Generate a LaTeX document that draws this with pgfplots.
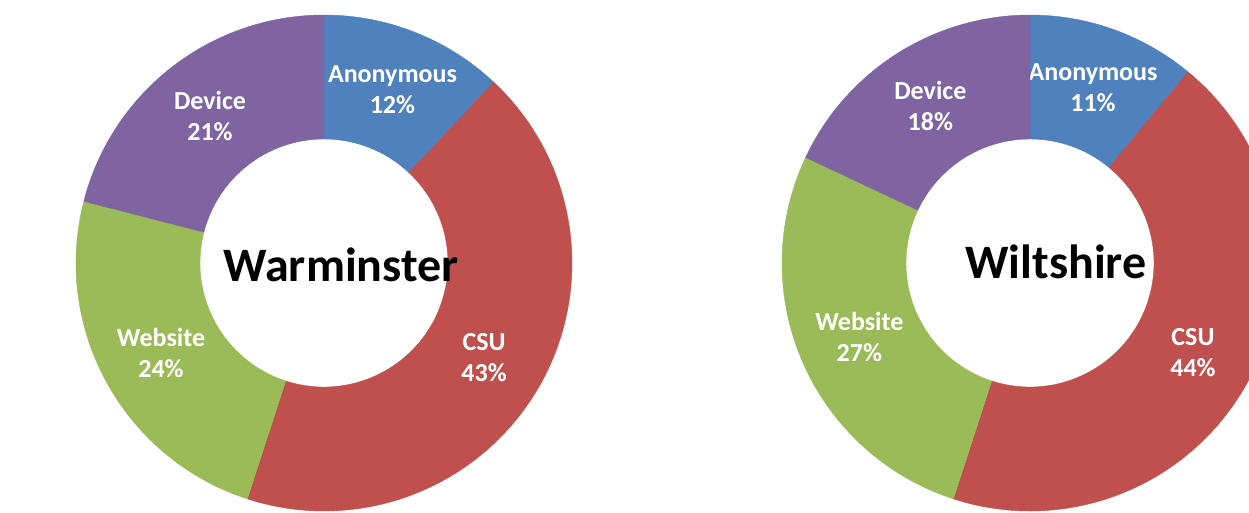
\documentclass[border=0pt]{standalone}
\usepackage{fontspec}
\setmainfont{Carlito}
\usepackage{pgfplots}
\usepackage{pgfplotstable}
\pgfplotsset{compat=1.18}
\definecolor{c0}{HTML}{4F81BD}
\definecolor{c1}{HTML}{C0504D}
\definecolor{c2}{HTML}{9BBB59}
\definecolor{c3}{HTML}{8064A2}
\tikzset{lbl/.style={text=white, align=center, font=\fontsize{26}{31}\selectfont\bfseries}}

\pgfplotstableread{
label pct
Anonymous 12
CSU 43
Website 24
Device 21
}\warm
\pgfplotstableread{
label pct
Anonymous 11
CSU 44
Website 27
Device 18
}\wilt

\def\Ro{248}
\def\Ri{124}
\def\Rm{186}

\newcommand\donut[3]{%
 \def\acc{90}%
 \pgfplotsforeachungrouped \i in {0,...,3}{%
   \pgfplotstablegetelem{\i}{pct}\of#1\let\p\pgfplotsretval
   \pgfplotstablegetelem{\i}{label}\of#1\let\lab\pgfplotsretval
   \pgfmathsetmacro\aend{\acc-3.6*\p}%
   \pgfmathsetmacro\amid{(\acc+\aend)/2}%
   \edef\temp{\noexpand\fill[c\i, draw=c\i, line width=0.4pt] ([shift={(\acc:\Ro pt)}]axis cs:#2,#3) arc[start angle=\acc, end angle=\aend, radius=\Ro pt] -- ([shift={(\aend:\Ri pt)}]axis cs:#2,#3) arc[start angle=\aend, end angle=\acc, radius=\Ri pt] -- cycle;
     \noexpand\node[lbl] at ([shift={(\amid:\Rm pt)}]axis cs:#2,#3) {\lab\noexpand\\\p\noexpand\%};}%
   \temp
   \let\acc\aend
 }}

\begin{document}
\begin{tikzpicture}
\begin{axis}[
  at={(0,0)}, anchor=south west,
  scale only axis, width=1249pt, height=512pt,
  xmin=0, xmax=1249, ymin=0, ymax=512,
  hide axis, clip=true,
]
\donut{\warm}{324}{249}
\donut{\wilt}{1030}{249}
\node[font=\fontsize{48}{56}\selectfont\bfseries, text=black] at (axis cs:341,247) {Warminster};
\node[font=\fontsize{48}{56}\selectfont\bfseries, text=black] at (axis cs:1056,250) {Wiltshire};
\end{axis}
\pgfresetboundingbox
\useasboundingbox (0,0) rectangle (1249pt,512pt);
\end{tikzpicture}
\end{document}
